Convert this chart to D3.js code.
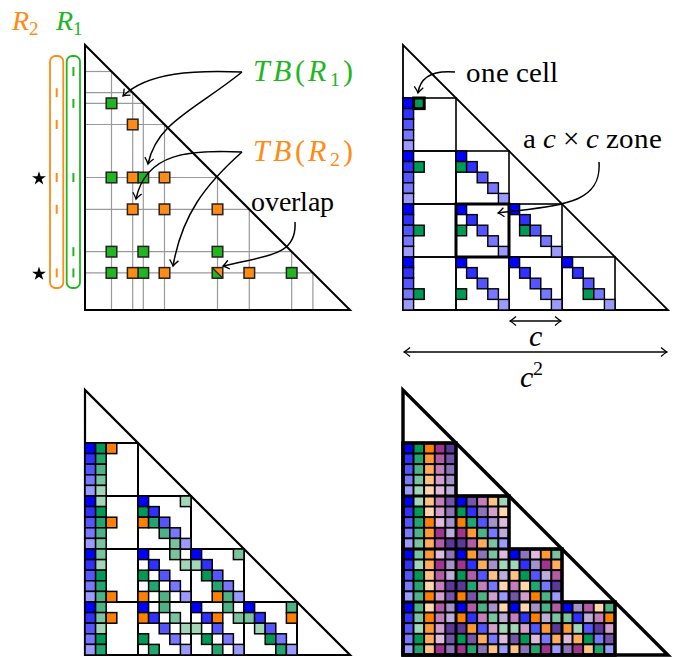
<!DOCTYPE html>
<html><head><meta charset="utf-8">
<script src="https://cdn.jsdelivr.net/npm/d3@7"></script>
<style>
  @font-face { font-family: "FigSerif"; src: local("Liberation Serif"), local("LiberationSerif"), local("Liberation Serif Regular"); font-style: normal; }
  @font-face { font-family: "FigSerif"; src: local("Liberation Serif Italic"), local("LiberationSerif-Italic"); font-style: italic; }
  svg text { font-family: "FigSerif", "Liberation Serif", "DejaVu Serif", serif; }
</style>
</head><body style="margin:0">
<svg id="fig" width="677" height="657"></svg>
<script>
// ---- data ----
// panel 1: a 25x25 lower triangle, elements sit at these indices
const elems = [2, 4, 5, 7, 12, 15, 19, 21];
const setR1 = [2, 5, 12, 19, 21];
const setR2 = [4, 7, 12, 15, 21];
const starRows = [12, 21];
// [row, col] of the coloured squares
const cellsR1 = [[5,2],[12,2],[12,5],[19,2],[19,5],[19,12],[21,2],[21,5],[21,19]];
const cellsR2 = [[7,4],[12,4],[12,7],[15,4],[15,7],[15,12],[21,4],[21,7],[21,15]];
const cellsBoth = [[21,12]];

// zones [zoneRow, zoneCol] of size c=5
const zones = [[1,0],[2,0],[2,1],[3,0],[3,1],[3,2],[4,0],[4,1],[4,2],[4,3]];

// shades 1..5 for each colour family
const blues   = ["#0000ff", "#3030ff", "#5555ff", "#7777ff", "#9a9aff"];
const greens  = ["#009955", "#22a56f", "#4db387", "#79c49f", "#a2d6b9"];
const oranges = ["#ff8000", "#ff9933", "#ffad5c", "#ffc285", "#ffd6ad"];
const mauves  = ["#a0358f", "#b15ca5", "#c27fb9", "#d29fcd", "#e0badd"];
const purples = ["#5b3998", "#7456a9", "#8d74ba", "#a692cb", "#bdaed9"];

// rows 5..24 of each panel, one token per column ("." = empty)
const panel2Rows = [
  "B1 G1 . . .",
  "B2 . . . .",
  "B3 . . . .",
  "B4 . . . .",
  "B5 . . . .",
  "B1 . . . . B1 . . . .",
  "B2 G1 . . . G1 B2 . . .",
  "B3 . . . . . . B3 . .",
  "B4 . . . . . . . B4 .",
  "B5 . . . . . . . . B5",
  "B1 . . . . B1 . . . . B1 . . . .",
  "B2 . . . . . B2 . . . . B2 . . .",
  "B3 G1 . . . G1 . B3 . . . G1 B3 . .",
  "B4 . . . . . . . B4 . . . . B4 .",
  "B5 . . . . . . . . B5 . . . . B5",
  "B1 . . . . B1 . . . . B1 . . . . B1 . . . .",
  "B2 . . . . . B2 . . . . B2 . . . . B2 . . .",
  "B3 . . . . . . B3 . . . . B3 . . . . B3 . .",
  "B4 G1 . . . G1 . . B4 . . . . B4 . . . G1 B4 .",
  "B5 . . . . . . . . B5 . . . . B5 . . . . B5"
];
const panel3Rows = [
  "B1 G1 O1 . .",
  "B2 G2 . . .",
  "B3 G3 . . .",
  "B4 G4 . . .",
  "B5 G5 . . .",
  "B1 G5 . . . B1 . . . G5",
  "B2 G1 . . . G1 B2 . . .",
  "B3 G2 O1 . . O1 G2 B3 . .",
  "B4 G3 . . . . . G3 B4 .",
  "B5 G4 . . . . . . G4 B5",
  "B1 G4 . . . B1 . . G4 . B1 . . . G4",
  "B2 G5 . . . . B2 . . G5 G5 B2 . . .",
  "B3 G1 . . . G1 . B3 . . . G1 B3 . .",
  "B4 G2 . . . . G2 . B4 . . . G2 B4 .",
  "B5 G3 O1 . . O1 . G3 . B5 . . O1 G3 B5",
  "B1 G3 . . . B1 . G3 . . B1 . . G3 . B1 . . . G3",
  "B2 G4 O1 . . O1 B2 . G4 . . B2 O1 . G4 G4 B2 . . O1",
  "B3 G5 . . . . . B3 . G5 G5 . B3 . . . G5 B3 . .",
  "B4 G1 . . . G1 . . B4 . . G1 . B4 . . . G1 B4 .",
  "B5 G2 . . . . G2 . . B5 . . G2 . B5 . . . G2 B5"
];
const panel4Rows = [
  "B1 G1 O1 M1 P1",
  "B2 G2 O2 M2 P2",
  "B3 G3 O3 M3 P3",
  "B4 G4 O4 M4 P4",
  "B5 G5 O5 M5 P5",
  "B1 G5 O4 M3 P2 B1 P2 M3 O4 G5",
  "B2 G1 O5 M4 P3 G1 B2 P3 M4 O5",
  "B3 G2 O1 M5 P4 O1 G2 B3 P4 M5",
  "B4 G3 O2 M1 P5 M1 O2 G3 B4 P5",
  "B5 G4 O3 M2 P1 P1 M2 O3 G4 B5",
  "B1 G4 O2 M5 P3 B1 O2 P3 G4 M5 B1 P3 M5 O2 G4",
  "B2 G5 O3 M1 P4 M1 B2 O3 P4 G5 G5 B2 P4 M1 O3",
  "B3 G1 O4 M2 P5 G1 M2 B3 O4 P5 O4 G1 B3 P5 M2",
  "B4 G2 O5 M3 P1 P1 G2 M3 B4 O5 M3 O5 G2 B4 P1",
  "B5 G3 O1 M4 P2 O1 P2 G3 M4 B5 P2 M4 O1 G3 B5",
  "B1 G3 O5 M2 P4 B1 M2 G3 P4 O5 B1 O5 P4 G3 M2 B1 P4 M2 O5 G3",
  "B2 G4 O1 M3 P5 O1 B2 M3 G4 P5 M3 B2 O1 P5 G4 G4 B2 P5 M3 O1",
  "B3 G5 O2 M4 P1 P1 O2 B3 M4 G5 G5 M4 B3 O2 P1 O2 G5 B3 P1 M4",
  "B4 G1 O3 M5 P2 G1 P2 O3 B4 M5 P2 G1 M5 B4 O3 M5 O3 G1 B4 P2",
  "B5 G2 O4 M1 P3 M1 G2 P3 O4 B5 O4 P3 G2 M1 B5 P3 M1 O4 G2 B5"
];

// ---- layout ----
const N = 25, S = 265, C = 5;
const FONT = "Liberation Serif";
const svg = d3.select("#fig");
const family = {B: blues, G: greens, O: oranges, M: mauves, P: purples};
const green1 = "#22b522", orange1 = "#ff8a14";

const defs = svg.append("defs");
defs.append("marker")
    .attr("id", "head")
    .attr("viewBox", "-8 -6 10 12")
    .attr("markerWidth", 10).attr("markerHeight", 12)
    .attr("markerUnits", "userSpaceOnUse")
    .attr("orient", "auto-start-reverse")
    .attr("refX", 0).attr("refY", 0)
  .append("path")
    .attr("d", "M-6,-4.5 Q-2,-1 0,0 Q-2,1 -6,4.5")
    .attr("fill", "none").attr("stroke", "#000").attr("stroke-width", 1.3);

function makeScales(ox, oy) {
  return {
    x: d3.scaleLinear().domain([0, N]).range([ox, ox + S]),
    y: d3.scaleLinear().domain([0, N]).range([oy, oy + S])
  };
}

function triangle(g, sc, w) {
  g.append("path")
      .attr("d", d3.line()([[sc.x(0), sc.y(0)], [sc.x(0), sc.y(N)], [sc.x(N), sc.y(N)], [sc.x(0), sc.y(0)]]) + "Z")
      .attr("fill", "none").attr("stroke", "#000").attr("stroke-width", w)
      .attr("stroke-linejoin", "miter");
}

function parseRows(rows) {
  const out = [];
  rows.forEach((row, i) => {
    row.split(" ").forEach((tok, j) => {
      if (tok !== ".") out.push({r: 5 + i, c: j, fill: family[tok[0]][+tok[1] - 1]});
    });
  });
  return out;
}

function drawZones(g, sc, w) {
  g.selectAll("rect.zone").data(zones).enter().append("rect")
      .attr("class", "zone")
      .attr("x", d => sc.x(d[1] * C)).attr("y", d => sc.y(d[0] * C))
      .attr("width", sc.x(C) - sc.x(0)).attr("height", sc.y(C) - sc.y(0))
      .attr("fill", "none").attr("stroke", "#000").attr("stroke-width", w);
}

function drawCells(g, sc, rows, w) {
  g.selectAll("rect.cell").data(parseRows(rows)).enter().append("rect")
      .attr("class", "cell")
      .attr("x", d => sc.x(d.c)).attr("y", d => sc.y(d.r))
      .attr("width", sc.x(1) - sc.x(0)).attr("height", sc.y(1) - sc.y(0))
      .attr("fill", d => d.fill).attr("stroke", "#000").attr("stroke-width", w);
}

function arrow(d, both) {
  const p = svg.append("path").attr("d", d)
      .attr("fill", "none").attr("stroke", "#000").attr("stroke-width", 1.5)
      .attr("marker-end", "url(#head)");
  if (both) p.attr("marker-start", "url(#head)");
}

function label(x, y, size) {
  return svg.append("text").attr("x", x).attr("y", y)
      .attr("font-family", FONT).attr("font-size", size);
}

// ---- panel 1 ----
{
  const sc = makeScales(85, 45);
  const g = svg.append("g");
  const mid = d => d + 0.5;
  g.selectAll("line.h").data(elems).enter().append("line")
      .attr("x1", sc.x(0)).attr("x2", d => sc.x(mid(d)))
      .attr("y1", d => sc.y(mid(d))).attr("y2", d => sc.y(mid(d)))
      .attr("stroke", "#9a9a9a").attr("stroke-width", 1.2);
  g.selectAll("line.v").data(elems).enter().append("line")
      .attr("x1", d => sc.x(mid(d))).attr("x2", d => sc.x(mid(d)))
      .attr("y1", d => sc.y(mid(d))).attr("y2", sc.y(N))
      .attr("stroke", "#9a9a9a").attr("stroke-width", 1.2);
  triangle(g, sc, 2);

  const cw = sc.x(1) - sc.x(0);
  const sq = (data, fill) => g.selectAll(null).data(data).enter().append("rect")
      .attr("x", d => sc.x(d[1])).attr("y", d => sc.y(d[0]))
      .attr("width", cw).attr("height", cw)
      .attr("fill", fill).attr("stroke", "#222").attr("stroke-width", 1.5);
  sq(cellsR1, green1);
  sq(cellsR2, orange1);
  cellsBoth.forEach(d => {
    const x0 = sc.x(d[1]), y0 = sc.y(d[0]), x1 = sc.x(d[1] + 1), y1 = sc.y(d[0] + 1);
    g.append("path").attr("d", `M${x0},${y0}L${x0},${y1}L${x1},${y1}Z`).attr("fill", green1);
    g.append("path").attr("d", `M${x0},${y0}L${x1},${y0}L${x1},${y1}Z`).attr("fill", orange1);
    g.append("rect").attr("x", x0).attr("y", y0).attr("width", cw).attr("height", cw)
        .attr("fill", "none").attr("stroke", "#222").attr("stroke-width", 1.5);
    g.append("line").attr("x1", x0).attr("y1", y0).attr("x2", x1).attr("y2", y1)
        .attr("stroke", "#222").attr("stroke-width", 1.3);
  });

  // the two capsules with their dashes
  const caps = [{x: 50, col: orange1, set: setR2}, {x: 66.7, col: green1, set: setR1}];
  caps.forEach(cp => {
    g.append("rect").attr("x", cp.x).attr("y", 56).attr("width", 13.3).attr("height", 232)
        .attr("rx", 5.5).attr("fill", "none").attr("stroke", cp.col).attr("stroke-width", 1.8);
    g.selectAll(null).data(cp.set).enter().append("line")
        .attr("x1", cp.x + 6.7).attr("x2", cp.x + 6.7)
        .attr("y1", d => sc.y(mid(d)) - 4.5).attr("y2", d => sc.y(mid(d)) + 4.5)
        .attr("stroke", cp.col).attr("stroke-width", 2);
  });
  g.selectAll(null).data(starRows).enter().append("path")
      .attr("d", d3.symbol(d3.symbolStar, 60))
      .attr("transform", d => `translate(39,${sc.y(mid(d)) + 1})`)
      .attr("fill", "#000");

  const lab = (x, y, main, sub, col) => {
    const t = label(x, y, 28).attr("fill", col);
    t.append("tspan").attr("font-style", "italic").text(main);
    t.append("tspan").attr("font-size", 19).attr("dy", 5).text(sub);
  };
  lab(12, 30, "R", "2", orange1);
  lab(56, 30, "R", "1", green1);

  const tb = (y, sub, col) => {
    const t = label(253, y, 30).attr("fill", col)
        .attr("textLength", 100).attr("lengthAdjust", "spacing");
    t.append("tspan").attr("font-style", "italic").text("TB");
    t.append("tspan").text("(");
    t.append("tspan").attr("font-style", "italic").text("R");
    t.append("tspan").attr("font-size", 20).attr("dy", 5).text(sub);
    t.append("tspan").attr("dy", -5).text(")");
  };
  tb(81, "1", green1);
  tb(161, "2", orange1);
  label(251, 211, 28).text("overlap");

  arrow("M242,72 C195,70 148,72 123,96");
  arrow("M242,72 C195,110 157,122 148,164");
  arrow("M242,152 C190,150 146,152 136,199");
  arrow("M242,152 C205,185 182,215 173,266");
  arrow("M295,222 C297,255 270,255 223,266");
}

// ---- panel 2 ----
{
  const sc = makeScales(403, 45);
  const g = svg.append("g");
  drawZones(g, sc, 1.6);
  triangle(g, sc, 1.8);
  drawCells(g, sc, panel2Rows, 1.4);
  g.append("rect").attr("x", sc.x(1)).attr("y", sc.y(5))
      .attr("width", sc.x(1) - sc.x(0)).attr("height", sc.y(1) - sc.y(0))
      .attr("fill", "none").attr("stroke", "#000").attr("stroke-width", 3);
  g.append("rect").attr("x", sc.x(5)).attr("y", sc.y(15))
      .attr("width", sc.x(C) - sc.x(0)).attr("height", sc.y(C) - sc.y(0))
      .attr("fill", "none").attr("stroke", "#000").attr("stroke-width", 3);

  label(466, 82, 29).text("one cell");
  const t = label(523, 148, 29);
  t.append("tspan").text("a ");
  t.append("tspan").attr("font-style", "italic").text("c");
  t.append("tspan").text(" × ");
  t.append("tspan").attr("font-style", "italic").text("c");
  t.append("tspan").text(" zone");

  arrow("M455,72 C431,70 420,78 418,93");
  arrow("M599,162 C602,205 560,205 498,213");

  arrow(`M${sc.x(10) + 1},321 L${sc.x(15) - 1},321`, true);
  arrow(`M${sc.x(0) + 1},352 L${sc.x(N) - 1},352`, true);
  label(535, 346, 30).attr("font-style", "italic").attr("text-anchor", "middle").text("c");
  const t2 = label(531, 387, 30).attr("text-anchor", "middle");
  t2.append("tspan").attr("font-style", "italic").text("c");
  t2.append("tspan").attr("font-size", 20).attr("dy", -12).text("2");
}

// ---- panel 3 ----
{
  const sc = makeScales(85, 390);
  const g = svg.append("g");
  drawZones(g, sc, 2);
  triangle(g, sc, 2.2);
  drawCells(g, sc, panel3Rows, 1.5);
}

// ---- panel 4 ----
{
  const sc = makeScales(403, 390);
  const g = svg.append("g");
  drawCells(g, sc, panel4Rows, 1.8);
  drawZones(g, sc, 2.6);
  const stair = [[0,5],[5,5],[5,10],[10,10],[10,15],[15,15],[15,20],[20,20],[20,25],[0,25]]
      .map(p => [sc.x(p[0]), sc.y(p[1])]);
  g.append("path").attr("d", d3.line()(stair) + "Z")
      .attr("fill", "none").attr("stroke", "#000").attr("stroke-width", 3.4);
  triangle(g, sc, 3.4);
}
</script>
</body></html>
